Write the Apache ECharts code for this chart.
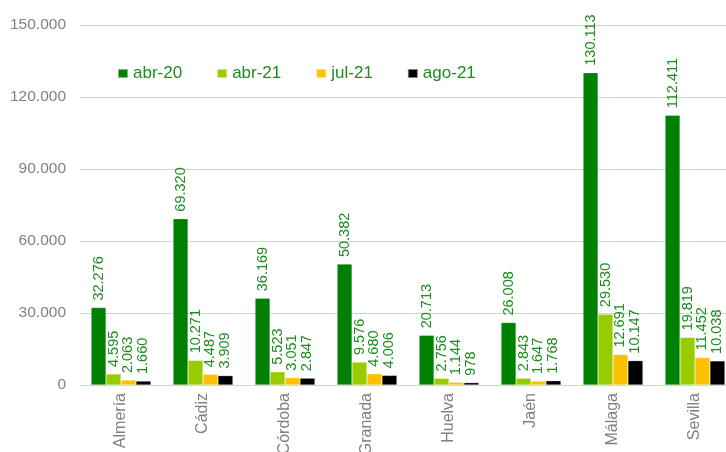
<!DOCTYPE html>
<html><head><meta charset="utf-8">
<script src="https://cdn.jsdelivr.net/npm/echarts@6/dist/echarts.min.js"></script>
<style>html,body{margin:0;padding:0;background:#fff}#c{width:726px;height:452px}</style>
</head><body><div id="c"></div>
<script>
const categories = ['Almería','Cádiz','Córdoba','Granada','Huelva','Jaén','Málaga','Sevilla'];
const abr20 = [32276,69320,36169,50382,20713,26008,130113,112411];
const abr21 = [4595,10271,5523,9576,2756,2843,29530,19819];
const jul21 = [2063,4487,3051,4680,1144,1647,12691,11452];
const ago21 = [1660,3909,2847,4006,978,1768,10147,10038];
const seriesNames = ['abr-20','abr-21','jul-21','ago-21'];
const colors = ['#008000','#99CC00','#FFC000','#000000'];
const yTicks = [0,30000,60000,90000,120000,150000];

const fmt = v => String(v).replace(/\B(?=(\d{3})+(?!\d))/g,'.');
const chart = echarts.init(document.getElementById('c'));
const data = [abr20,abr21,jul21,ago21];
chart.setOption({
  animation:false,
  grid:{left:80,right:-10,top:25,bottom:67,containLabel:false,outerBoundsMode:'none'},
  legend:{left:112,top:60,itemWidth:10,itemHeight:9,itemGap:34,icon:'rect',
    textStyle:{color:'#1E8C1E',fontSize:17,fontFamily:'Arial, Liberation Sans'},
    data:seriesNames},
  xAxis:{type:'category',data:categories,
    axisLine:{lineStyle:{color:'#C8DCC8'}},axisTick:{show:false},
    axisLabel:{rotate:90,color:'#808080',fontSize:16,fontFamily:'Arial, Liberation Sans',margin:8}},
  yAxis:{type:'value',min:0,max:150000,interval:30000,
    axisLine:{show:false},axisTick:{show:false},
    splitLine:{lineStyle:{color:'#C8DCC8'}},
    axisLabel:{color:'#808080',fontSize:15.5,fontFamily:'Arial, Liberation Sans',margin:14,formatter:v=>fmt(v)}},
  series:data.map((d,i)=>({
    name:seriesNames[i],type:'bar',data:d,barGap:'0%',barCategoryGap:'27%',
    itemStyle:{color:colors[i],borderColor:'rgba(255,255,255,0.5)',borderWidth:0.5},
    label:{show:true,position:'top',rotate:90,align:'left',verticalAlign:'middle',distance:7,
      color:'#1E8C1E',fontSize:14.5,fontFamily:'Arial, Liberation Sans',formatter:p=>fmt(p.value)}
  }))
});
</script></body></html>
